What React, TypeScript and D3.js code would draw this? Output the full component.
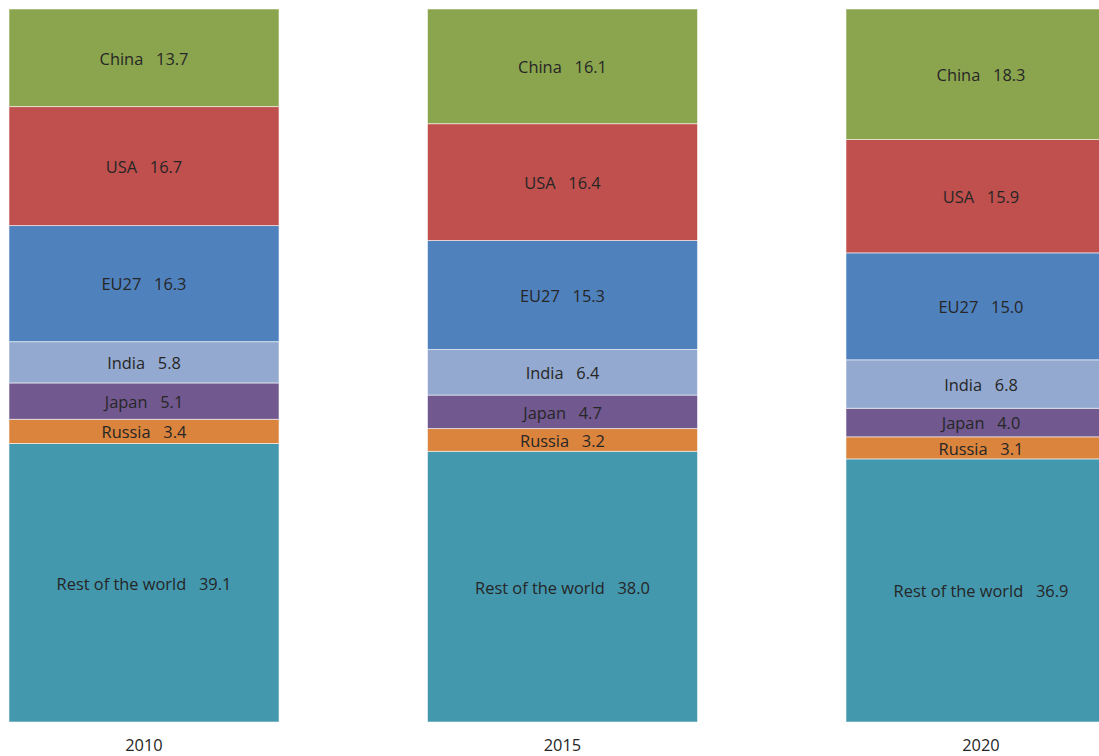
import React from "react";
import * as d3 from "d3";

const years = ["2010", "2015", "2020"];
const regions = ["Rest of the world", "Russia", "Japan", "India", "EU27", "USA", "China"];
const china = [13.7, 16.1, 18.3];
const usa = [16.7, 16.4, 15.9];
const eu27 = [16.3, 15.3, 15.0];
const india = [5.8, 6.4, 6.8];
const japan = [5.1, 4.7, 4.0];
const russia = [3.4, 3.2, 3.1];
const rest = [39.1, 38.0, 36.9];
const colors = ["#4398AE", "#DB843D", "#71588F", "#93A9CF", "#4F81BD", "#C0504D", "#8BA54E"];

const seriesValues: Record<string, number[]> = {
  "Rest of the world": rest,
  Russia: russia,
  Japan: japan,
  India: india,
  EU27: eu27,
  USA: usa,
  China: china,
};

const W = 1099;
const H = 756;

export default function App() {
  const rows = years.map((y, i) => {
    const r: any = { year: y };
    regions.forEach((k) => (r[k] = seriesValues[k][i]));
    return r;
  });
  const stack = d3.stack<any>().keys(regions).offset(d3.stackOffsetExpand);
  const layers = stack(rows);
  const x = d3
    .scaleBand<string>()
    .domain(years)
    .range([-65.25, 1190.25])
    .paddingInner(0.3548)
    .paddingOuter(0.1774);
  const y = d3.scaleLinear().domain([0, 1]).range([722, 9]);
  const font = "'Open Sans', sans-serif";
  const fs = 16.4;
  return (
    <svg
      width={W}
      height={H}
      style={{ position: "fixed", left: 0, top: 0, background: "#fff" }}
      fontFamily={font}
    >
      {layers.map((layer, li) => (
        <g key={layer.key}>
          {layer.map((d, i) => {
            const x0 = x(years[i])!;
            const y0 = y(d[1]);
            const y1 = y(d[0]);
            const val = seriesValues[layer.key][i];
            return (
              <g key={i}>
                <rect
                  x={x0}
                  y={y0}
                  width={x.bandwidth()}
                  height={y1 - y0}
                  fill={colors[li]}
                  stroke="#ffffff"
                  strokeOpacity={0.55}
                  strokeWidth={1}
                />
                <text
                  x={x0 + x.bandwidth() / 2}
                  y={(y0 + y1) / 2}
                  dy="0.42em"
                  textAnchor="middle"
                  fontSize={fs}
                  fill="#262626"
                  style={{ whiteSpace: "pre" }}
                >
                  {`${layer.key}   ${val.toFixed(1)}`}
                </text>
              </g>
            );
          })}
        </g>
      ))}
      {years.map((yr) => (
        <text
          key={yr}
          x={x(yr)! + x.bandwidth() / 2}
          y={750.8}
          textAnchor="middle"
          fontSize={fs}
          fill="#262626"
        >
          {yr}
        </text>
      ))}
    </svg>
  );
}
